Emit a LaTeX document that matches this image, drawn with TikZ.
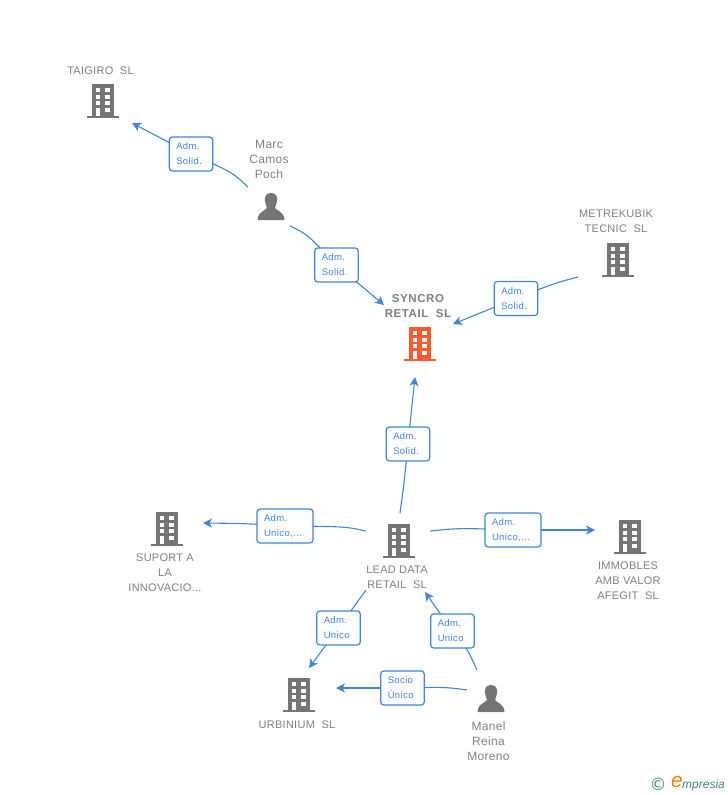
\documentclass[tikz,border=0pt]{standalone}
\usepackage{fontspec}
\setmainfont{Liberation Sans}
\newfontfamily\namefont[LetterSpace=2.5]{Liberation Sans}
\newfontfamily\namefontb[LetterSpace=5,BoldFont={Liberation Sans Bold}]{Liberation Sans}
\newfontfamily\tagfont[LetterSpace=4]{Liberation Sans}
\newfontfamily\logofont{DejaVu Sans}
\usetikzlibrary{arrows.meta,backgrounds}
\definecolor{linkblue}{HTML}{3F84E0}
\definecolor{icongrey}{HTML}{757575}
\definecolor{txtgrey}{HTML}{808080}
\definecolor{hotorange}{HTML}{FF5A2B}
\definecolor{logoteal}{HTML}{4A8296}
\tikzset{
  x=1pt,y=-1pt,
  link/.style={draw=linkblue,line width=1.1pt,-{Stealth[length=9pt,width=9pt,inset=2.5pt]}},
  linkplain/.style={draw=linkblue,line width=1.1pt},
  tagbox/.style={draw=linkblue,line width=1.2pt,rounded corners=3pt,fill=white,inner sep=0pt,
    minimum height=34pt,align=left,text=linkblue,font=\tagfont\fontsize{9.5}{15}\selectfont},
  tagnarrow/.style={tagbox,minimum width=43.5pt,text width=29.5pt},
  tagwide/.style={tagbox,minimum width=56pt,text width=42pt},
  namelabel/.style={text=txtgrey,align=center,inner sep=0pt,yshift=-0.7pt,font=\namefont\fontsize{11}{15}\selectfont},
  personlabel/.style={text=txtgrey,align=center,inner sep=0pt,yshift=-0.3pt,font=\namefont\fontsize{12}{15}\selectfont},
}
\newcommand{\bldg}[3]{%
  \begin{scope}[shift={(#1,#2)}]
    \fill[#3] (-11,0) rectangle (11,32);
    \fill[#3] (-16,32) rectangle (16,34);
    \foreach \r in {4,10.5,17,23.5}{
      \fill[white] (-7,\r) rectangle (-2.7,\r+4);
      \fill[white] (2.3,\r) rectangle (7,\r+4);
    }
    \fill[white] (-7,23.5) rectangle (-2.7,32);
  \end{scope}}
\newcommand{\persona}[2]{%
  \begin{scope}[shift={(#1,#2)}]
    \fill[icongrey] (0,0) .. controls (-5.5,0) and (-6.5,4) .. (-6,8)
      .. controls (-5.7,11) and (-4.5,13) .. (-4,15)
      .. controls (-5,17.5) and (-13,18) .. (-13.5,27) -- (13.5,27)
      .. controls (13,18) and (5,17.5) .. (4,15)
      .. controls (4.5,13) and (5.7,11) .. (6,8)
      .. controls (6.5,4) and (5.5,0) .. (0,0) -- cycle;
  \end{scope}}
\begin{document}
\begin{tikzpicture}
\useasboundingbox (0,0) rectangle (728,795);
% icons
\bldg{102.5}{84}{icongrey}
\bldg{618}{243}{icongrey}
\bldg{420}{327}{hotorange}
\bldg{167}{512}{icongrey}
\bldg{399}{524}{icongrey}
\bldg{630}{520}{icongrey}
\bldg{299}{678}{icongrey}
\persona{271}{193}
\persona{491}{685}
% names
\node[namelabel] (taigiro) at (100.5,70) {TAIGIRO\ \ SL};
\node[personlabel] (marc) at (269,159) {Marc\\Camos\\Poch};
\node[namelabel] (metre) at (616,220.5) {METREKUBIK\\TECNIC\ \ SL};
\node[namelabel,font=\namefontb\bfseries\fontsize{11.5}{15}\selectfont] (syncro) at (418,305.5) {SYNCRO\\RETAIL\ \ SL};
\node[namelabel] (suport) at (165,572) {SUPORT A\\LA\\INNOVACIO...};
\node[namelabel] (lead) at (397,576.5) {LEAD DATA\\RETAIL\ \ SL};
\node[namelabel] (immobles) at (628,580) {IMMOBLES\\AMB VALOR\\AFEGIT\ \ SL};
\node[namelabel] (urbinium) at (297,724) {URBINIUM\ \ SL};
\node[personlabel] (manel) at (488.5,741) {Manel\\Reina\\Moreno};
% tags
\node[tagnarrow] (t1) at (191,154) {Adm.\\Solid.};
\node[tagnarrow] (t2) at (336.5,265) {Adm.\\Solid.};
\node[tagnarrow] (t3) at (516,298.5) {Adm.\\Solid.};
\node[tagnarrow] (t4) at (408,444) {Adm.\\Solid.};
\node[tagwide] (t5) at (285,526) {Adm.\\Unico,...};
\node[tagwide] (t6) at (513,530) {Adm.\\Unico,...};
\node[tagnarrow] (t7) at (338.5,628) {Adm.\\Unico};
\node[tagnarrow] (t8) at (452.5,631) {Adm.\\Unico};
\node[tagnarrow] (t9) at (402.5,688) {Socio\\Único};
% connector ends
\coordinate (s1) at (248,187); \coordinate (e1) at (132,123);
\coordinate (s2) at (290,226); \coordinate (e2) at (384,305);
\coordinate (s3) at (578,277); \coordinate (e3) at (453,324);
\coordinate (s4) at (400,513); \coordinate (e4) at (415,377);
\coordinate (s5) at (366,531); \coordinate (e5) at (203,523);
\coordinate (s6) at (430,531); \coordinate (e6) at (595,530);
\coordinate (s7) at (366,590); \coordinate (e7) at (309,668);
\coordinate (s8) at (477,670); \coordinate (e8) at (425,592);
\coordinate (s9) at (467,690); \coordinate (e9) at (336,688);
\begin{pgfonlayer}{background}
\draw[linkplain] (s1) .. controls (232,172) .. (t1.center);
\draw[link] (t1.center) -- (e1);
\draw[linkplain] (s2) .. controls (307,234) .. (t2.center);
\draw[link] (t2.center) -- (e2);
\draw[linkplain] (s3) .. controls (555,283) .. (t3.center);
\draw[link] (t3.center) -- (e3);
\draw[linkplain] (s4) .. controls (404,484) .. (t4.center);
\draw[link] (t4.center) .. controls (411.5,410) .. (e4);
\draw[linkplain] (s5) .. controls (345,526.5) .. (t5.center);
\draw[link] (t5.center) .. controls (245,523.5) .. (e5);
\draw[linkplain] (s6) .. controls (460,528) .. (t6.center);
\draw[link] (t6.center) .. controls (555,530) .. (e6);
\draw[linkplain] (s7) -- (t7.center);
\draw[link] (t7.center) -- (e7);
\draw[linkplain] (s8) .. controls (467,648) .. (t8.center);
\draw[link] (t8.center) -- (e8);
\draw[linkplain] (s9) .. controls (445,687) .. (t9.center);
\draw[link] (t9.center) -- (e9);
\end{pgfonlayer}
% logo
\node[inner sep=0pt,text=logoteal,font=\logofont\fontsize{17}{17}\selectfont] (copyr) at (658,784) {©};
\node[inner sep=0pt,text=orange,font=\itshape\fontsize{21}{21}\selectfont] (logoe) at (677,782) {e};
\node[inner sep=0pt,text=logoteal,anchor=west,font=\itshape\fontsize{12}{12}\selectfont] (logot) at (682,785) {mpresia};
\end{tikzpicture}
\end{document}
